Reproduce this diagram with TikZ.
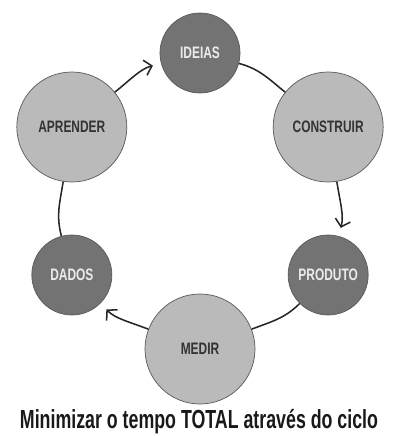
\documentclass[tikz,border=0pt]{standalone}
\usepackage{fontspec}
\setmainfont{Liberation Sans}
\newfontfamily\condensed[FakeStretch=0.72]{Liberation Sans}
\newfontfamily\narrowcaption[FakeStretch=0.68]{Liberation Sans}
\usetikzlibrary{arrows.meta}
\definecolor{darkdisc}{gray}{0.45}
\definecolor{lightdisc}{gray}{0.73}
\definecolor{rimgray}{gray}{0.35}

\begin{document}
\begin{tikzpicture}[x=0.025cm, y=0.025cm,
    disc/.style={circle, draw=rimgray, line width=0.5pt, inner sep=0pt,
      font=\condensed\bfseries\fontsize{11.8}{12}\selectfont},
    smalldisc/.style={disc, minimum size=2cm, fill=darkdisc, text=white!92!black},
    bigdisc/.style={disc, minimum size=2.75cm, fill=lightdisc, text=black!80},
    link/.style={line width=1.1pt, black!85},
    >={Straight Barb[length=5pt, width=11pt]}]
  \useasboundingbox (0,0) rectangle (393,436);
  \begin{scope}[shift={(200,235)}]
    % six stages on a ring
    \node[smalldisc] (ideias) at (90:148) {IDEIAS};
    \node[bigdisc] (construir) at (30:148) {CONSTRUIR};
    \node[smalldisc] (produto) at (-30:148) {PRODUTO};
    \node[bigdisc] (medir) at (-90:148) {MEDIR};
    \node[smalldisc] (dados) at (210:148) {DADOS};
    \node[bigdisc] (aprender) at (150:148) {APRENDER};
  \end{scope}
  % arcs, clockwise
  \draw[link] (ideias) to[out=-15, in=141] (construir);
  \draw[link, ->, shorten >=6pt] (construir) to[out=-81, in=75] (produto);
  \draw[link] (produto) to[out=-135, in=21] (medir);
  \draw[link, ->, shorten >=6pt] (medir) to[out=159, in=-45] (dados);
  \draw[link] (dados) to[out=105, in=-99] (aprender);
  \draw[link, ->, shorten >=6pt] (aprender) to[out=39, in=-165] (ideias);
  % caption
  \node[font=\narrowcaption\bfseries\fontsize{18.6}{20}\selectfont, text=black!90]
    (legenda) at (199,14) {Minimizar o tempo TOTAL através do ciclo};
\end{tikzpicture}
\end{document}
